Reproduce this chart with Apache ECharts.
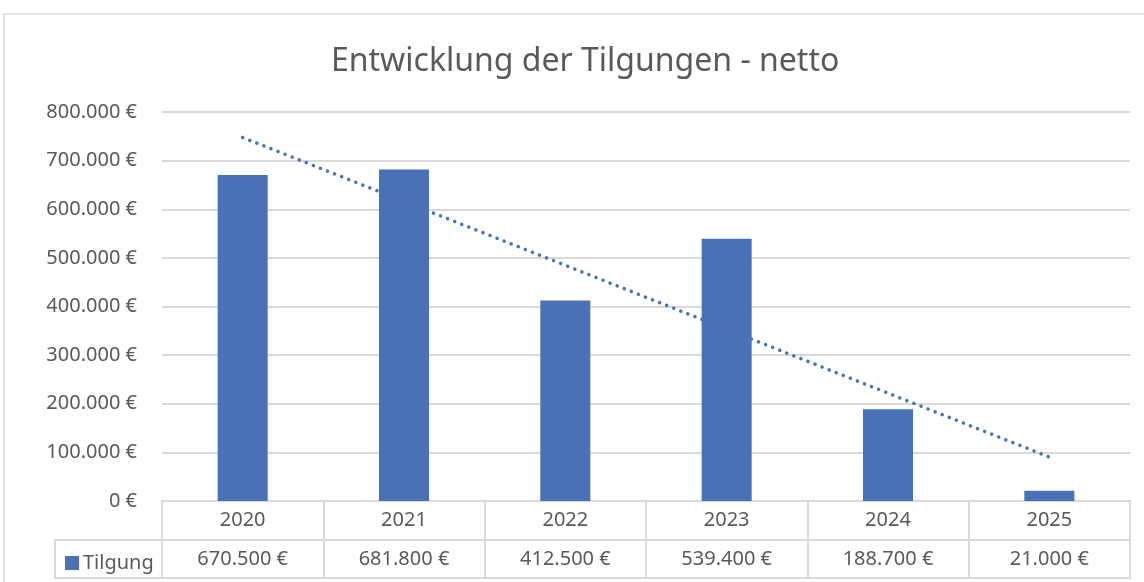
<!DOCTYPE html>
<html>
<head>
<meta charset="utf-8">
<script src="https://cdn.jsdelivr.net/npm/echarts@6/dist/echarts.min.js"></script>
<style>
  html, body { margin: 0; padding: 0; background: #fff; }
  #main { width: 1144px; height: 582px; }
</style>
</head>
<body>
<div id="main"></div>
<script>
// Daten
var years = ["2020", "2021", "2022", "2023", "2024", "2025"];
var tilgung = [670500, 681800, 412500, 539400, 188700, 21000];
// linearer Trend (Endpunkte)
var trend = [747600, null, null, null, null, 90400];

function fmtEuro(v) {
  return String(Math.round(v)).replace(/\B(?=(\d{3})+(?!\d))/g, ".") + " €";
}

var font = "Noto Sans";
var txt = "#595959";
var line = "#d9d9d9";
var blue = "#4a70b7";

var myChart = echarts.init(document.getElementById("main"));
myChart.setOption({
  animation: false,
  textStyle: { fontFamily: font },
  title: {
    text: "Entwicklung der Tilgungen - netto",
    left: 326,
    top: 41,
    textStyle: { color: txt, fontSize: 32, fontWeight: "normal", fontFamily: font }
  },
  legend: {
    left: 60,
    top: 548,
    itemWidth: 14,
    itemHeight: 14,
    itemGap: 4,
    icon: "rect",
    data: ["Tilgung"],
    textStyle: { color: txt, fontSize: 20, padding: [0, 0, 0, -1] }
  },
  grid: [
    { left: 162, right: 14, top: 112, bottom: 81 },
    { left: 162, right: 14, top: 501, height: 77, show: true, borderColor: line, borderWidth: 2 }
  ],
  xAxis: [
    {
      type: "category",
      gridIndex: 0,
      data: years,
      axisLine: { show: false },
      axisTick: { show: false },
      axisLabel: {
        margin: 0,
        formatter: function (val, idx) {
          return "{y|" + val + "}\n{v|" + fmtEuro(tilgung[idx]) + "}";
        },
        rich: {
          y: { color: txt, fontSize: 20, lineHeight: 39, fontFamily: font },
          v: { color: txt, fontSize: 20, lineHeight: 39, fontFamily: font }
        }
      }
    },
    {
      type: "category",
      gridIndex: 1,
      data: years,
      axisLine: { show: false },
      axisTick: { show: false },
      axisLabel: { show: false },
      splitLine: { show: true, interval: 0, lineStyle: { color: line, width: 2 } }
    }
  ],
  yAxis: [
    {
      type: "value",
      gridIndex: 0,
      min: 0,
      max: 800000,
      interval: 100000,
      axisLine: { show: false },
      axisTick: { show: false },
      axisLabel: {
        margin: 25,
        color: txt,
        fontSize: 20,
        formatter: function (v) { return fmtEuro(v); }
      },
      splitLine: { lineStyle: { color: line, width: 2 } }
    },
    {
      type: "value",
      gridIndex: 1,
      min: 0,
      max: 2,
      interval: 1,
      axisLine: { show: false },
      axisTick: { show: false },
      axisLabel: { show: false },
      splitLine: { show: true, lineStyle: { color: line, width: 2 } }
    }
  ],
  graphic: [
    {
      type: "rect",
      shape: { x: 4, y: 14, width: 1160, height: 620 },
      style: { fill: null, stroke: line, lineWidth: 1.5 },
      silent: true
    },
    {
      type: "polyline",
      shape: { points: [[162, 540], [55, 540], [55, 578], [162, 578]] },
      style: { fill: null, stroke: line, lineWidth: 2 },
      silent: true
    }
  ],
  series: [
    {
      name: "Tilgung",
      type: "bar",
      xAxisIndex: 0,
      yAxisIndex: 0,
      barWidth: "31%",
      itemStyle: { color: blue },
      data: tilgung
    },
    {
      name: "Trend",
      type: "line",
      xAxisIndex: 0,
      yAxisIndex: 0,
      connectNulls: true,
      symbol: "none",
      lineStyle: { color: blue, width: 3.5, type: [0.1, 7.5], cap: "round" },
      data: trend
    }
  ]
});
</script>
</body>
</html>
